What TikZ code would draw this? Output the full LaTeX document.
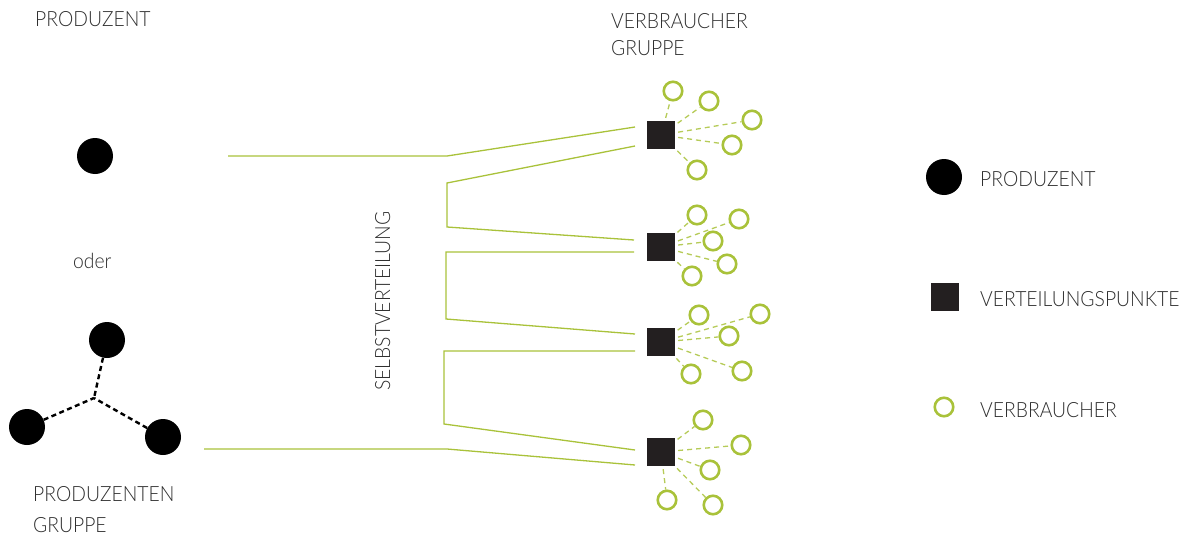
\documentclass[tikz,border=0pt]{standalone}
\usepackage{fontspec}
\IfFontExistsTF{Lato Light}{\setmainfont{Lato Light}[FakeStretch=0.92]}{\setmainfont{Lato}[FakeStretch=0.92]}
\definecolor{leaf}{HTML}{A9C23A}
\definecolor{ink}{HTML}{231F20}
\definecolor{txt}{HTML}{2E2E2E}
\begin{document}
\begin{tikzpicture}[x=1pt,y=-1pt,
  label/.style={anchor=base west,inner sep=0pt,text=txt,font=\fontsize{21}{27}\selectfont},
  producer/.style={circle,fill=black,minimum size=36pt,inner sep=0pt},
  hub/.style={rectangle,fill=ink,minimum size=28pt,inner sep=0pt},
  consumer/.style={circle,draw=leaf,line width=2.6pt,minimum size=18.5pt,inner sep=0pt},
  feed/.style={draw=leaf,line width=1.3pt},
  twig/.style={draw=leaf!85,line width=1.3pt,dash pattern=on 5pt off 4pt,shorten <=3pt},
  bond/.style={draw=black,line width=2.4pt,dash pattern=on 5pt off 3.5pt}]
\useasboundingbox (0,0) rectangle (1194,538);

% headings
\node[label] (tProd) at (35,27) {PRODUZENT};
\node[label] (tOder) at (73,268) {oder};
\node[label] (tGrp1) at (33,501) {PRODUZENTEN};
\node[label] (tGrp2) at (33,532) {GRUPPE};
\node[label] (tVb1) at (611,28) {VERBRAUCHER};
\node[label] (tVb2) at (611,55) {GRUPPE};
\node[label,rotate=90] (tSelf) at (390,391) {SELBSTVERTEILUNG};

% single producer
\node[producer] (p) at (95,156) {};

% producer group
\node[producer] (g1) at (107,340) {};
\node[producer] (g2) at (27,427) {};
\node[producer] (g3) at (163,437) {};
\coordinate (gj) at (94,398);
\draw[bond] (g1) -- (gj);
\draw[bond] (g2) -- (gj);
\draw[bond] (g3) -- (gj);

% distribution points
\node[hub] (s1) at (661,135) {};
\node[hub] (s2) at (661,247) {};
\node[hub] (s3) at (661,342) {};
\node[hub] (s4) at (661,452) {};

% self-distribution feeds
\coordinate (a0) at (228,156);
\coordinate (a1) at (447,156);
\coordinate (a2) at (635,127);
\coordinate (b0) at (635,146);
\coordinate (b1) at (447,183);
\coordinate (b2) at (447,227);
\coordinate (b3) at (634,240);
\coordinate (c0) at (634,252);
\coordinate (c1) at (446,252);
\coordinate (c2) at (446,319);
\coordinate (c3) at (635,334);
\coordinate (d0) at (635,351);
\coordinate (d1) at (444,351);
\coordinate (d2) at (444,424);
\coordinate (d3) at (635,450);
\coordinate (e0) at (204,449);
\coordinate (e1) at (447,449);
\coordinate (e2) at (635,465);
\draw[feed] (a0) -- (a1) -- (a2);
\draw[feed] (b0) -- (b1) -- (b2) -- (b3);
\draw[feed] (c0) -- (c1) -- (c2) -- (c3);
\draw[feed] (d0) -- (d1) -- (d2) -- (d3);
\draw[feed] (e0) -- (e1) -- (e2);

% consumers around each distribution point
\foreach \n/\h/\x/\y in {
  1a/s1/673/91, 1b/s1/709/101, 1c/s1/752/120, 1d/s1/732/145, 1e/s1/697/170,
  2a/s2/697/215, 2b/s2/739/219, 2c/s2/713/241, 2d/s2/727/264, 2e/s2/692/276,
  3a/s3/699/315, 3b/s3/760/314, 3c/s3/729/336, 3d/s3/742/371, 3e/s3/691/374,
  4a/s4/703/420, 4b/s4/741/445, 4c/s4/710/470, 4d/s4/667/500, 4e/s4/713/505}{
  \node[consumer] (v\n) at (\x,\y) {};
  \draw[twig] (\h) -- (v\n);
}

% legend
\node[producer] (lp) at (944,177) {};
\node[label] (lpt) at (980,186) {PRODUZENT};
\node[hub] (ls) at (945,297) {};
\node[label] (lst) at (980,306) {VERTEILUNGSPUNKTE};
\node[consumer] (lc) at (944,407) {};
\node[label] (lct) at (980,417) {VERBRAUCHER};
\end{tikzpicture}
\end{document}
